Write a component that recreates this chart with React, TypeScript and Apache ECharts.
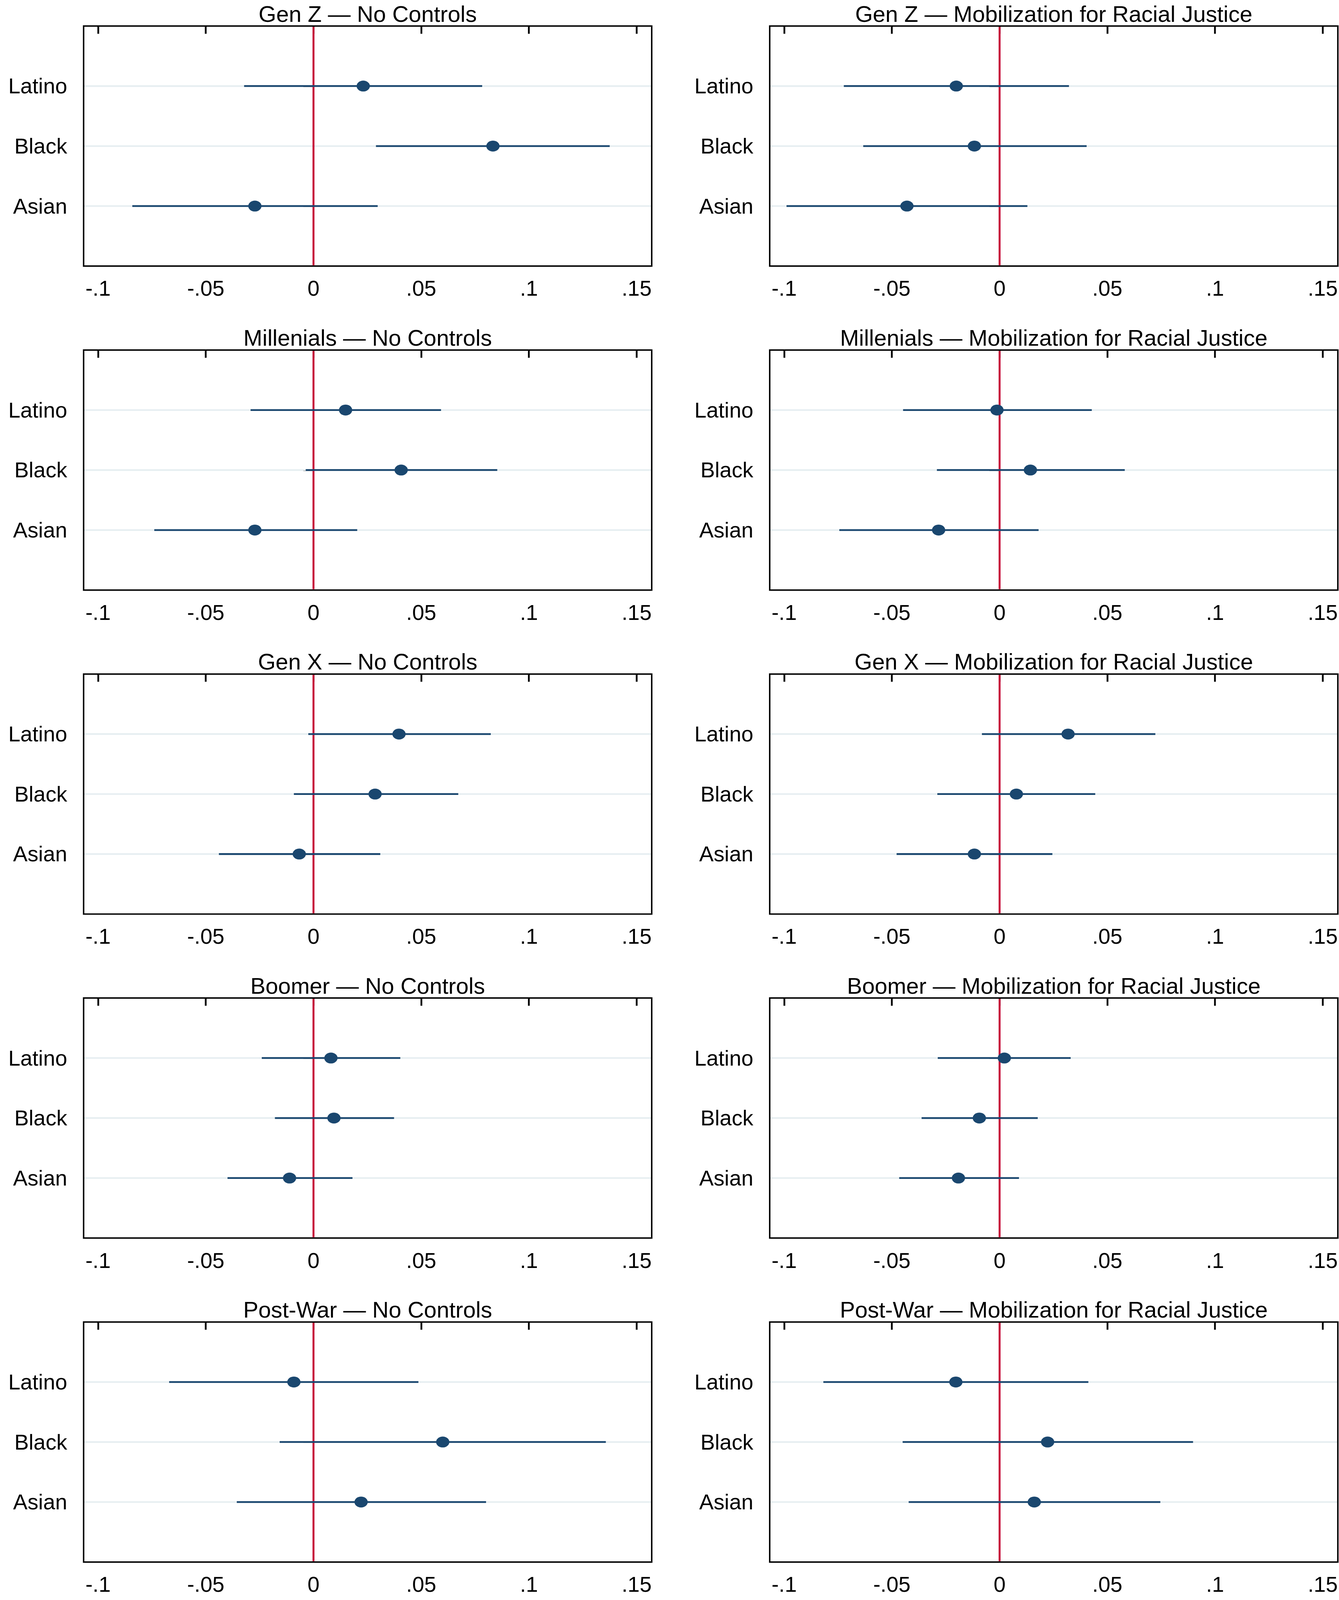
import { useEffect, useRef } from 'react';
import * as echarts from 'echarts';

// categories (top to bottom)
const categories = ['Latino', 'Black', 'Asian'];

// x axis ticks and their Stata-style labels
const xTickValues = [-0.1, -0.05, 0, 0.05, 0.1, 0.15];
const xTickLabels = ['-.1', '-.05', '0', '.05', '.1', '.15'];

const panelTitles = [
  'Gen Z — No Controls',
  'Gen Z — Mobilization for Racial Justice',
  'Millenials — No Controls',
  'Millenials — Mobilization for Racial Justice',
  'Gen X — No Controls',
  'Gen X — Mobilization for Racial Justice',
  'Boomer — No Controls',
  'Boomer — Mobilization for Racial Justice',
  'Post-War — No Controls',
  'Post-War — Mobilization for Racial Justice',
];

// point estimates (Latino, Black, Asian) and 95% CIs [low, high]
const genZNoControlsEst = [0.0231, 0.0833, -0.0272];
const genZNoControlsCI = [[-0.0322, 0.0783], [0.029, 0.1375], [-0.0841, 0.0298]];
const genZMobilizationEst = [-0.0201, -0.0117, -0.043];
const genZMobilizationCI = [[-0.0723, 0.0322], [-0.0633, 0.0404], [-0.0989, 0.0129]];
const millenialsNoControlsEst = [0.0149, 0.0407, -0.0272];
const millenialsNoControlsCI = [[-0.0292, 0.0592], [-0.0036, 0.0853], [-0.0739, 0.0203]];
const millenialsMobilizationEst = [-0.0012, 0.0143, -0.0283];
const millenialsMobilizationCI = [[-0.0448, 0.0428], [-0.0291, 0.0581], [-0.0744, 0.0181]];
const genXNoControlsEst = [0.0397, 0.0286, -0.0066];
const genXNoControlsCI = [[-0.0024, 0.0823], [-0.0091, 0.0672], [-0.0439, 0.031]];
const genXMobilizationEst = [0.0318, 0.0078, -0.0117];
const genXMobilizationCI = [[-0.0082, 0.0723], [-0.0289, 0.0444], [-0.0478, 0.0245]];
const boomerNoControlsEst = [0.0081, 0.0095, -0.0111];
const boomerNoControlsCI = [[-0.024, 0.0403], [-0.0179, 0.0374], [-0.0399, 0.0181]];
const boomerMobilizationEst = [0.0022, -0.0094, -0.0191];
const boomerMobilizationCI = [[-0.0287, 0.033], [-0.0362, 0.0177], [-0.0466, 0.009]];
const postWarNoControlsEst = [-0.0091, 0.06, 0.0221];
const postWarNoControlsCI = [[-0.067, 0.0487], [-0.0157, 0.1357], [-0.0356, 0.0801]];
const postWarMobilizationEst = [-0.0203, 0.0223, 0.0161];
const postWarMobilizationCI = [[-0.0818, 0.0412], [-0.045, 0.0898], [-0.0422, 0.0746]];

const panelEst = [
  genZNoControlsEst, genZMobilizationEst,
  millenialsNoControlsEst, millenialsMobilizationEst,
  genXNoControlsEst, genXMobilizationEst,
  boomerNoControlsEst, boomerMobilizationEst,
  postWarNoControlsEst, postWarMobilizationEst,
];
const panelCI = [
  genZNoControlsCI, genZMobilizationCI,
  millenialsNoControlsCI, millenialsMobilizationCI,
  genXNoControlsCI, genXMobilizationCI,
  boomerNoControlsCI, boomerMobilizationCI,
  postWarNoControlsCI, postWarMobilizationCI,
];

const FONT = '"Liberation Sans", Arial, Helvetica, sans-serif';
const NAVY = '#1a476f';
const RED = '#c60c3a';
const GRIDLINE = '#e6eef1';

// layout designed for a 3427 x 4973 page, scaled to the real viewport
const PAGE_W = 3427;
const PAGE_H = 4973;
const ROW_PITCH = 1007;
const COL_LEFT = [214, 1970];
const BOX_TOP = 81;
const BOX_W = 1454;
const BOX_H = 746;

function buildOption(sx: number, sy: number) {
  const grid: any[] = [];
  const xAxis: any[] = [];
  const yAxis: any[] = [];
  const title: any[] = [];
  const series: any[] = [];
  const fs = Math.sqrt(sx * sy);

  panelTitles.forEach((name, i) => {
    const row = Math.floor(i / 2);
    const col = i % 2;
    const left = COL_LEFT[col] * sx;
    const top = (BOX_TOP + ROW_PITCH * row) * sy;
    const width = BOX_W * sx;

    grid.push({
      left,
      top,
      width,
      height: BOX_H * sy,
      show: true,
      borderColor: '#000',
      borderWidth: 4.5 * Math.min(sx, sy),
      backgroundColor: '#fff',
    });

    title.push({
      text: name,
      left: left + width / 2,
      textAlign: 'center',
      top: ROW_PITCH * row * sy + 6,
      padding: 0,
      textStyle: { fontFamily: FONT, fontSize: 64 * fs, fontWeight: 'normal', color: '#000' },
    });

    xAxis.push({
      type: 'value',
      gridIndex: i,
      min: -0.1067,
      max: 0.157,
      axisLine: { show: false },
      splitLine: { show: false },
      axisTick: {
        show: true,
        customValues: xTickValues,
        length: 24 * sy,
        lineStyle: { color: '#000', width: 4.5 * sx },
      },
      axisLabel: {
        customValues: xTickValues,
        formatter: (v: number) => {
          const k = xTickValues.findIndex((t) => Math.abs(t - v) < 1e-9);
          return k >= 0 ? xTickLabels[k] : '';
        },
        fontFamily: FONT,
        fontSize: 61 * fs,
        color: '#000',
        margin: 36 * sy,
      },
    });

    yAxis.push({
      type: 'value',
      gridIndex: i,
      min: 0,
      max: 4,
      inverse: true,
      axisLine: { show: false },
      splitLine: { show: false },
      axisTick: {
        show: true,
        customValues: [1, 2, 3],
        length: 26 * sx,
        lineStyle: { color: '#000', width: 4.5 * sy },
      },
      axisLabel: {
        customValues: [1, 2, 3],
        formatter: (v: number) => categories[Math.round(v) - 1] ?? '',
        fontFamily: FONT,
        fontSize: 61 * fs,
        color: '#000',
        margin: 42 * sx,
      },
    });

    // light horizontal gridlines at each category
    series.push({
      type: 'custom',
      xAxisIndex: i,
      yAxisIndex: i,
      z: 1,
      silent: true,
      encode: { x: 0, y: 1 },
      data: categories.map((_, k) => [0, k + 1]),
      renderItem: (params: any, api: any) => {
        const cs = params.coordSys;
        const p = api.coord([0, api.value(1)]);
        return {
          type: 'line',
          shape: { x1: cs.x + 2, y1: p[1], x2: cs.x + cs.width - 2, y2: p[1] },
          style: { stroke: GRIDLINE, lineWidth: 5 * sy },
        };
      },
    });

    // reference line at zero
    series.push({
      type: 'custom',
      xAxisIndex: i,
      yAxisIndex: i,
      z: 2,
      silent: true,
      encode: { x: 0, y: 1 },
      data: [[0, 0]],
      renderItem: (params: any, api: any) => {
        const cs = params.coordSys;
        const p = api.coord([api.value(0), 0]);
        return {
          type: 'line',
          shape: { x1: p[0], y1: cs.y + 2, x2: p[0], y2: cs.y + cs.height - 2 },
          style: { stroke: RED, lineWidth: 5 * sx },
        };
      },
    });

    // confidence intervals
    series.push({
      type: 'custom',
      xAxisIndex: i,
      yAxisIndex: i,
      z: 3,
      encode: { x: [1, 2], y: 0 },
      data: panelCI[i].map((c, k) => [k + 1, c[0], c[1]]),
      renderItem: (_params: any, api: any) => {
        const y = api.value(0);
        const a = api.coord([api.value(1), y]);
        const b = api.coord([api.value(2), y]);
        return {
          type: 'line',
          shape: { x1: a[0], y1: a[1], x2: b[0], y2: b[1] },
          style: { stroke: NAVY, lineWidth: 5.5 * sy },
        };
      },
    });

    // point estimates
    series.push({
      type: 'scatter',
      xAxisIndex: i,
      yAxisIndex: i,
      z: 4,
      symbol: 'circle',
      symbolSize: [34 * sx, 34 * sy],
      itemStyle: { color: NAVY, opacity: 1 },
      data: panelEst[i].map((v, k) => [v, k + 1]),
    });
  });

  return {
    animation: false,
    backgroundColor: '#fff',
    title,
    grid,
    xAxis,
    yAxis,
    series,
  };
}

export default function App() {
  const chartRef = useRef<HTMLDivElement>(null);

  useEffect(() => {
    const el = chartRef.current;
    if (!el) return;
    const w = el.clientWidth || PAGE_W;
    const h = el.clientHeight || PAGE_H;
    const chart = echarts.init(el, null, { renderer: 'svg', width: w, height: h });
    chart.setOption(buildOption(w / PAGE_W, h / PAGE_H));
    return () => {
      chart.dispose();
    };
  }, []);

  return (
    <div
      ref={chartRef}
      style={{
        position: 'absolute',
        left: 0,
        top: 0,
        width: '100vw',
        height: '100vh',
        maxWidth: PAGE_W,
        maxHeight: PAGE_H,
        background: '#fff',
        overflow: 'hidden',
      }}
    />
  );
}
